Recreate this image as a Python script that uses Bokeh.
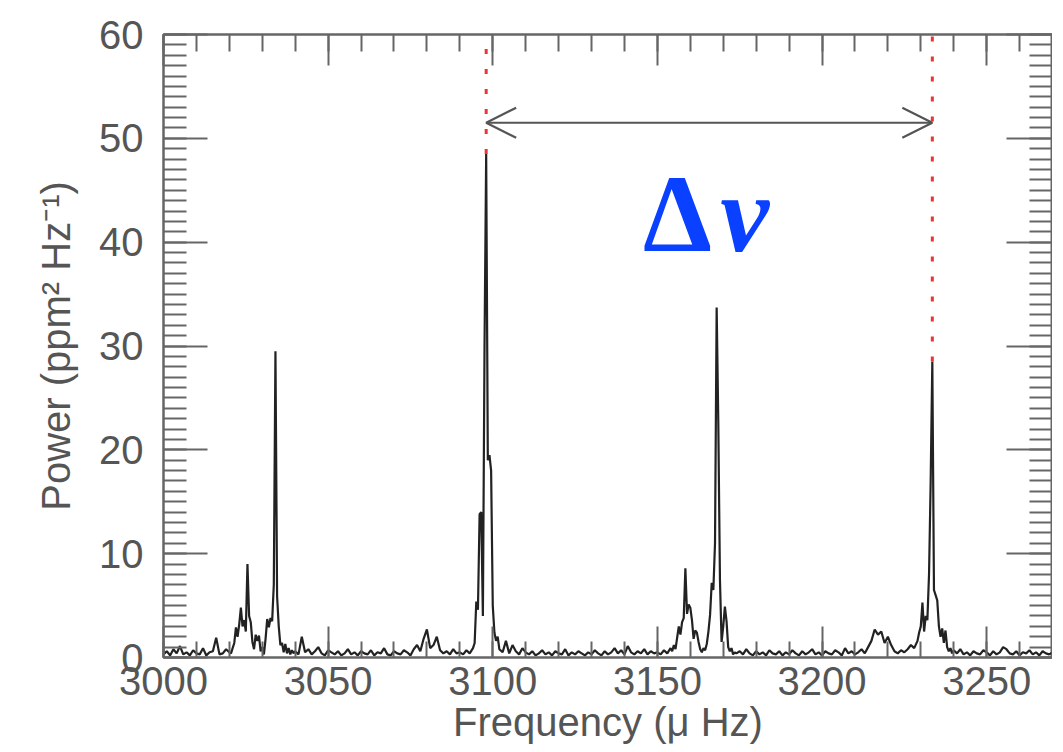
from bokeh.plotting import figure
from bokeh.models import (Range1d, LinearAxis, SingleIntervalTicker, Arrow, OpenHead,
                          BasicTickFormatter, CustomLabelingPolicy)
from bokeh.core.properties import value
from bokeh.embed import file_html
from bokeh.resources import INLINE

# ---------------- data ----------------
freq_a = [3000, 3001, 3002, 3003, 3004, 3005, 3006, 3007, 3008, 3009, 3010,
          3011, 3012, 3013, 3014, 3015, 3016, 3017, 3018, 3019, 3020]
pow_a = [0.3, 0.6, 0.2, 0.8, 0.4, 1.1, 0.3, 0.5, 0.2, 0.7, 0.4,
         0.3, 0.9, 0.2, 0.5, 0.6, 1.9, 0.3, 0.4, 0.8, 0.5]

freq_b = [3020.5, 3021.0, 3021.5, 3022.0, 3022.5, 3023.0, 3023.5, 3024.0, 3024.5, 3025.0,
          3025.5, 3026.0, 3026.5, 3027.0, 3027.5, 3028.0, 3028.5, 3029.0, 3029.5, 3030.0,
          3030.5, 3031.0, 3031.5, 3032.0, 3032.5, 3033.0, 3033.5, 3034.0, 3034.5, 3035.0,
          3035.5, 3036.0, 3036.5, 3037.0, 3037.5, 3038.0, 3038.5, 3039.0, 3039.5, 3040.0]
pow_b = [0.4, 0.9, 1.4, 2.9, 2.0, 3.2, 4.8, 3.0, 3.6, 2.5,
         9.0, 4.0, 3.4, 1.5, 0.8, 2.2, 1.6, 2.1, 0.6, 1.0,
         0.3, 1.8, 3.7, 2.9, 3.8, 3.5, 7.0, 29.5, 5.9, 3.0,
         1.2, 1.4, 0.5, 1.3, 0.4, 0.9, 0.3, 0.7, 0.4, 0.6]

freq_c = [3041, 3042, 3043, 3044, 3045, 3046, 3047, 3048, 3049, 3050,
          3051, 3052, 3053, 3054, 3055, 3056, 3057, 3058, 3059, 3060,
          3061, 3062, 3063, 3064, 3065, 3066, 3067, 3068, 3069, 3070,
          3071, 3072, 3073, 3074, 3075, 3076, 3077, 3078, 3079, 3080,
          3081, 3082, 3083, 3084, 3085, 3086, 3087, 3088, 3089, 3090,
          3091, 3092, 3093, 3094]
pow_c = [0.3, 2.0, 0.5, 0.8, 0.3, 0.6, 1.0, 0.4, 0.2, 0.7,
         0.5, 0.3, 0.6, 0.2, 0.4, 0.8, 0.3, 0.5, 0.2, 0.6,
         0.4, 0.3, 0.7, 0.2, 0.5, 0.4, 0.9, 0.3, 0.2, 0.6,
         0.4, 0.3, 0.7, 0.5, 0.2, 0.8, 1.2, 0.6, 1.8, 2.7,
         0.9, 1.2, 2.0, 0.7, 0.4, 0.6, 0.3, 0.8, 0.4, 0.5,
         0.3, 0.7, 0.4, 0.9]

freq_d = [3094.5, 3095.0, 3095.5, 3096.0, 3096.5, 3097.0, 3097.5, 3098.0,
          3098.5, 3099.0, 3099.5, 3100.0, 3100.5, 3101.0, 3101.5, 3102.0]
pow_d = [1.4, 5.4, 4.6, 13.8, 14.0, 4.0, 30.0, 48.5,
         19.0, 19.5, 18.0, 5.0, 2.4, 1.6, 2.0, 0.8]

freq_e = [3103, 3104, 3105, 3106, 3107, 3108, 3109, 3110, 3111, 3112,
          3113, 3114, 3115, 3116, 3117, 3118, 3119, 3120, 3121, 3122,
          3123, 3124, 3125, 3126, 3127, 3128, 3129, 3130, 3131, 3132,
          3133, 3134, 3135, 3136, 3137, 3138, 3139, 3140, 3141, 3142,
          3143, 3144, 3145, 3146, 3147, 3148, 3149, 3150, 3151, 3152,
          3153, 3154]
pow_e = [0.5, 1.6, 0.4, 1.2, 0.6, 0.3, 0.9, 0.5, 0.3, 0.6,
         0.2, 0.4, 0.7, 0.3, 0.5, 0.2, 0.6, 0.4, 0.3, 0.8,
         0.2, 0.5, 0.3, 0.6, 0.4, 0.2, 0.5, 0.3, 0.7, 0.4,
         0.2, 0.6, 0.3, 0.5, 0.9, 0.4, 0.7, 0.3, 1.1, 0.5,
         0.3, 0.6, 0.4, 0.8, 0.3, 0.6, 0.4, 0.5, 0.3, 0.7,
         0.4, 0.9]

freq_f = [3154.5, 3155.0, 3155.5, 3156.0, 3156.5, 3157.0, 3157.5, 3158.0, 3158.5, 3159.0,
          3159.5, 3160.0, 3160.5, 3161.0, 3161.5, 3162.0, 3162.5, 3163.0, 3163.5, 3164.0,
          3164.5, 3165.0, 3165.5, 3166.0, 3166.5, 3167.0, 3167.5, 3168.0, 3168.5, 3169.0,
          3169.5, 3170.0, 3170.5, 3171.0, 3171.5, 3172.0, 3172.5, 3173.0, 3173.5, 3174.0]
pow_f = [0.6, 1.2, 0.8, 1.9, 3.0, 2.2, 3.4, 3.8, 8.6, 4.2,
         5.1, 4.8, 3.6, 1.8, 2.6, 2.4, 1.5, 0.8, 0.5, 0.9,
         0.7, 1.3, 2.5, 4.1, 7.2, 6.5, 11.0, 33.7, 22.6, 7.5,
         1.5, 3.0, 4.9, 3.5, 1.0, 0.6, 0.9, 0.3, 0.5, 0.4]

freq_g = [3175, 3176, 3177, 3178, 3179, 3180, 3181, 3182, 3183, 3184,
          3185, 3186, 3187, 3188, 3189, 3190, 3191, 3192, 3193, 3194,
          3195, 3196, 3197, 3198, 3199, 3200, 3201, 3202, 3203, 3204,
          3205, 3206, 3207, 3208, 3209, 3210, 3211, 3212, 3213, 3214,
          3215, 3216, 3217, 3218, 3219, 3220, 3221, 3222, 3223, 3224,
          3225, 3226, 3227, 3228, 3229]
pow_g = [0.6, 0.3, 0.8, 0.4, 0.2, 0.6, 0.3, 0.5, 0.2, 0.7,
         0.4, 0.3, 0.6, 0.2, 0.5, 0.3, 0.7, 0.4, 0.2, 0.6,
         0.3, 0.5, 0.8, 0.3, 0.5, 0.2, 0.6, 0.4, 0.3, 0.7,
         0.5, 0.2, 0.9, 0.4, 0.6, 0.3, 0.5, 0.8, 0.4, 1.0,
         1.6, 2.7, 2.2, 2.5, 1.4, 2.0, 1.2, 0.6, 0.4, 0.7,
         0.5, 0.8, 1.2, 0.9, 1.6]

freq_h = [3229.5, 3230.0, 3230.5, 3231.0, 3231.5, 3232.0, 3232.5, 3233.0, 3233.5, 3234.0,
          3234.5, 3235.0, 3235.5, 3236.0, 3236.5, 3237.0, 3237.5, 3238.0, 3238.5, 3239.0,
          3239.5, 3240.0]
pow_h = [2.4, 3.0, 5.3, 2.5, 4.0, 3.6, 8.0, 17.0, 28.5, 6.5,
         6.0, 5.5, 3.0, 2.0, 2.8, 1.4, 2.6, 1.0, 0.6, 0.9,
         0.4, 0.7]

freq_i = [3241, 3242, 3243, 3244, 3245, 3246, 3247, 3248, 3249, 3250,
          3251, 3252, 3253, 3254, 3255, 3256, 3257, 3258, 3259, 3260,
          3261, 3262, 3263, 3264, 3265, 3266, 3267, 3268, 3269, 3270]
pow_i = [0.4, 0.8, 0.3, 0.5, 0.2, 0.6, 0.4, 0.3, 0.7, 0.5,
         0.2, 0.6, 0.3, 0.5, 1.0, 0.8, 0.4, 0.3, 0.6, 0.2,
         0.5, 0.4, 0.7, 0.3, 0.5, 0.2, 0.6, 0.4, 0.3, 0.5]

# large-separation markers (two consecutive radial-order modes)
marker_freq = [3098.0, 3233.5]
marker_peak = [48.5, 28.5]
marker_top = [60, 60]
arrow_level = 51.5
label_pos = (3145.6, 42.7)

x_min, x_max = 3000, 3270
y_min, y_max = 0, 60

freq = freq_a + freq_b + freq_c + freq_d + freq_e + freq_f + freq_g + freq_h + freq_i
power = pow_a + pow_b + pow_c + pow_d + pow_e + pow_f + pow_g + pow_h + pow_i

# ---------------- figure ----------------
AX = "#666666"
TXT = "#555555"
FONT = "Liberation Sans"

p = figure(frame_width=889, frame_height=623,
           x_range=Range1d(x_min, x_max), y_range=Range1d(y_min, y_max),
           output_backend="svg", toolbar_location=None,
           x_axis_location=None, y_axis_location=None,
           min_border_left=163, min_border_top=34, min_border_bottom=84, min_border_right=0)
p.xgrid.visible = False
p.ygrid.visible = False
p.outline_line_color = AX
p.outline_line_width = 2
p.background_fill_color = "white"
p.border_fill_color = "white"

HIDE_JS = """
const all = Array.from(indices);
for (const i of all) {
  if (typeof indices.unset === "function") { indices.unset(i); }
  else if (typeof indices.remove === "function") { indices.remove(i); }
  else { indices.set(i, false); }
}
return indices;
"""


def style(ax, maj, mnr, labels=True):
    ax.axis_line_color = AX
    ax.axis_line_width = 2
    ax.major_tick_line_color = AX
    ax.minor_tick_line_color = AX
    ax.major_tick_line_width = 2
    ax.minor_tick_line_width = 2
    ax.major_tick_in = maj
    ax.major_tick_out = 0
    ax.minor_tick_in = mnr
    ax.minor_tick_out = 0
    if labels:
        ax.major_label_text_font = FONT
        ax.major_label_text_font_size = "40px"
        ax.major_label_text_color = TXT
        ax.axis_label_text_font = FONT
        ax.axis_label_text_font_size = "40px"
        ax.axis_label_text_font_style = "normal"
        ax.axis_label_text_color = TXT
    else:
        ax.major_label_text_font_size = "0px"
        ax.major_label_standoff = 0
        ax.axis_label_standoff = 0
        ax.major_label_policy = CustomLabelingPolicy(code=HIDE_JS)


def xticker():
    return SingleIntervalTicker(interval=50, num_minor_ticks=5)


def yticker():
    return SingleIntervalTicker(interval=10, num_minor_ticks=10)


bottom = LinearAxis(ticker=xticker(), axis_label="Frequency (\u03bc Hz)",
                    formatter=BasicTickFormatter(use_scientific=False))
style(bottom, 31, 16)
bottom.major_label_standoff = 9
bottom.axis_label_standoff = 2
p.add_layout(bottom, "below")

left = LinearAxis(ticker=yticker(), axis_label="Power (ppm\u00b2 Hz\u207b\u00b9)")
style(left, 44, 23)
left.major_label_standoff = 20
left.axis_label_standoff = 18
p.add_layout(left, "left")

top = LinearAxis(ticker=xticker())
style(top, 31, 17, labels=False)
p.add_layout(top, "above")

right = LinearAxis(ticker=yticker())
style(right, 46, 23, labels=False)
p.add_layout(right, "right")

# spectrum
p.line(freq, power, line_color="#222222", line_width=2.2)

# red dotted markers
p.segment(x0=marker_freq, y0=marker_peak, x1=marker_freq, y1=marker_top,
          line_color="#ee3333", line_width=3, line_dash="5 15")

# double-headed arrow
p.add_layout(Arrow(start=OpenHead(size=30, line_color="#555555", line_width=2.2),
                   end=OpenHead(size=30, line_color="#555555", line_width=2.2),
                   x_start=marker_freq[0], y_start=arrow_level,
                   x_end=marker_freq[1], y_end=arrow_level,
                   line_color="#555555", line_width=2.2))

# Δν label
BLUE = "#0a40ff"
p.text(x=[label_pos[0]], y=[label_pos[1]], text=["\u0394"],
       text_font=value("Liberation Serif"), text_font_style="bold",
       text_font_size="110px", text_color=BLUE,
       text_align="left", text_baseline="alphabetic")
p.text(x=[label_pos[0] + 23.5], y=[label_pos[1]], text=["\u03bd"],
       text_font=value("Liberation Serif"), text_font_style="bold italic",
       text_font_size="110px", text_color=BLUE,
       text_align="left", text_baseline="alphabetic")

open("out.html", "w").write(file_html(p, INLINE))
